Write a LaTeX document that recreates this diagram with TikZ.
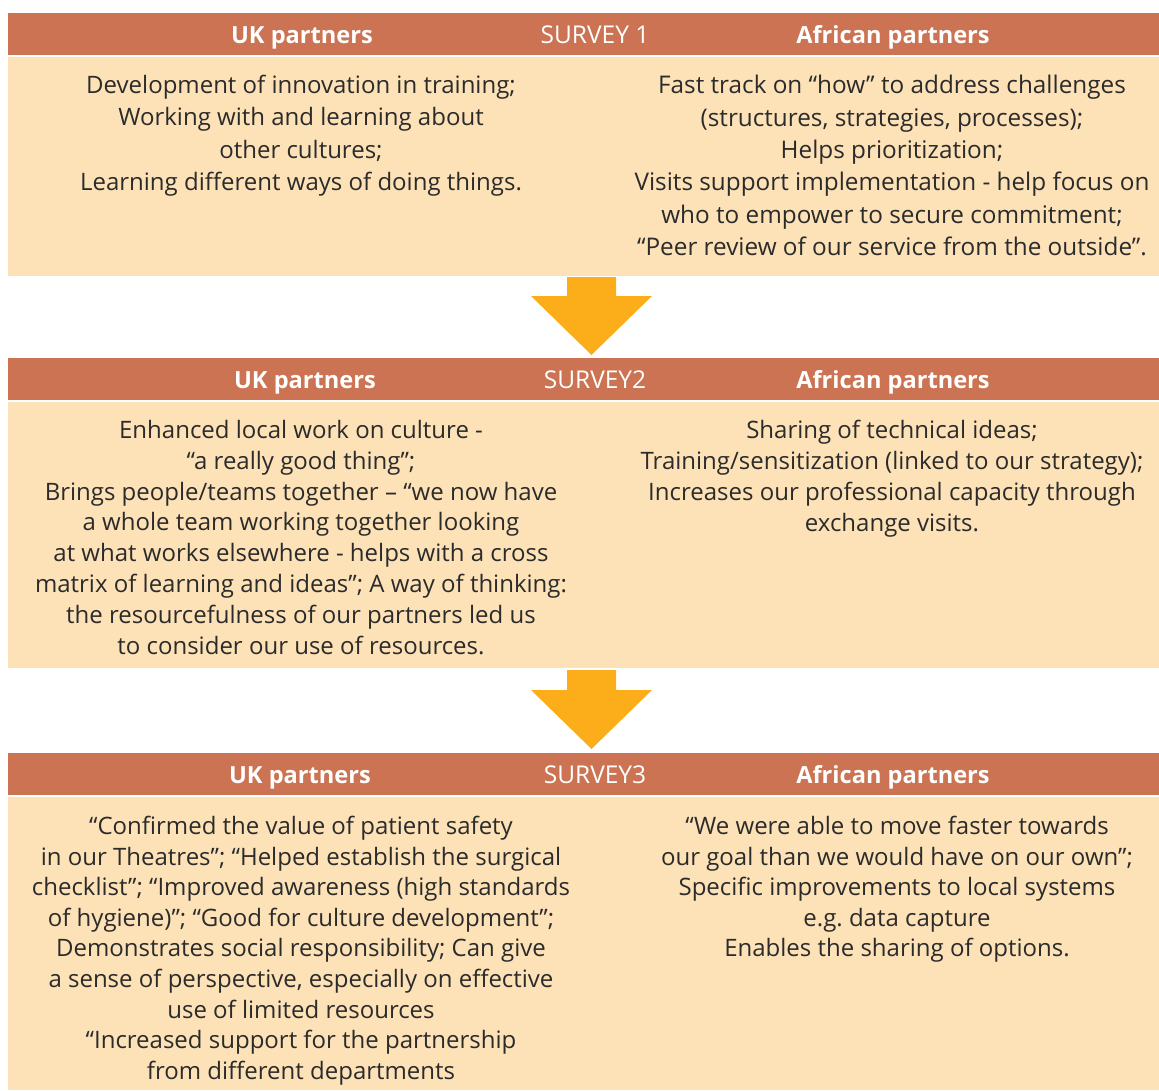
\documentclass[tikz,border=0pt]{standalone}
\usepackage{fontspec}
\setmainfont{Open Sans}
\frenchspacing
\definecolor{hdr}{HTML}{CB7352}
\definecolor{bodyc}{HTML}{FDE2B8}
\definecolor{arr}{HTML}{FBAE19}
\definecolor{txt}{HTML}{2B2B2B}
\begin{document}
\begin{tikzpicture}[x=1pt,y=-1pt,
  hdrbox/.style={fill=hdr,draw=none,anchor=north west,minimum width=1151pt,minimum height=42pt,inner sep=0pt},
  bodybox/.style={fill=bodyc,draw=none,anchor=north west,minimum width=1151pt,inner sep=0pt},
  hlabel/.style={text=white,font=\fontsize{23.6}{28}\selectfont\bfseries,anchor=base,inner sep=0pt},
  slabel/.style={text=white,font=\fontsize{24.5}{28}\selectfont,anchor=base,inner sep=0pt},
  btext/.style={text=txt,align=center,anchor=north,inner sep=0pt},
  downarrow/.style={fill=arr,draw=none}]
\useasboundingbox (0,0) rectangle (1159,1090);
% section 1
\node[hdrbox] (h1) at (8,13) {};
\node[bodybox,minimum height=219pt] (b1) at (8,57) {};
\node[hlabel] (h1uk) at (302,43) {UK partners};
\node[slabel] (h1s) at (595,43) {SURVEY 1};
\node[hlabel] (h1af) at (893,43) {African partners};
\node[btext,font=\fontsize{24}{32.4}\selectfont] (t1uk) at (301,75) {Development of innovation in training;\\Working with and learning about\\other cultures;\\Learning different ways of doing things.};
\node[btext,font=\fontsize{24.3}{32.4}\selectfont] (t1af) at (892,75) {Fast track on “how” to address challenges\\(structures, strategies, processes);\\Helps prioritization;\\Visits support implementation - help focus on\\who to empower to secure commitment;\\“Peer review of our service from the outside”.};
% arrow 1
\fill[downarrow] (567,277) -- (616,277) -- (616,296) -- (652,296) -- (591.5,355) -- (531,296) -- (567,296) -- cycle;
% section 2
\node[hdrbox] (h2) at (8,358) {};
\node[bodybox,minimum height=266pt] (b2) at (8,402) {};
\node[hlabel] (h2uk) at (305,388) {UK partners};
\node[slabel] (h2s) at (595,388) {SURVEY2};
\node[hlabel] (h2af) at (893,388) {African partners};
\node[btext,font=\fontsize{24}{30.8}\selectfont] (t2uk) at (301,420) {Enhanced local work on culture -\\“a really good thing”;\\Brings people/teams together – “we now have\\a whole team working together looking\\at what works elsewhere - helps with a cross\\matrix of learning and ideas”; A way of thinking:\\the resourcefulness of our partners led us\\to consider our use of resources.};
\node[btext,font=\fontsize{24}{31}\selectfont] (t2af) at (892,420) {Sharing of technical ideas;\\Training/sensitization (linked to our strategy);\\Increases our professional capacity through\\exchange visits.};
% arrow 2
\fill[downarrow] (567,670) -- (616,670) -- (616,690) -- (652,690) -- (591.5,749) -- (531,690) -- (567,690) -- cycle;
% section 3
\node[hdrbox] (h3) at (8,753) {};
\node[bodybox,minimum height=293pt] (b3) at (8,797) {};
\node[hlabel] (h3uk) at (300,783) {UK partners};
\node[slabel] (h3s) at (595,783) {SURVEY3};
\node[hlabel] (h3af) at (893,783) {African partners};
\node[btext,font=\fontsize{24}{30.6}\selectfont] (t3uk) at (301,816) {“Confirmed the value of patient safety\\in our Theatres”; “Helped establish the surgical\\checklist”; “Improved awareness (high standards\\of hygiene)”; “Good for culture development”;\\Demonstrates social responsibility; Can give\\a sense of perspective, especially on effective\\use of limited resources\\“Increased support for the partnership\\from different departments};
\node[btext,font=\fontsize{24}{30.6}\selectfont] (t3af) at (897,816) {“We were able to move faster towards\\our goal than we would have on our own”;\\Specific improvements to local systems\\e.g. data capture\\Enables the sharing of options.};
\end{tikzpicture}
\end{document}
